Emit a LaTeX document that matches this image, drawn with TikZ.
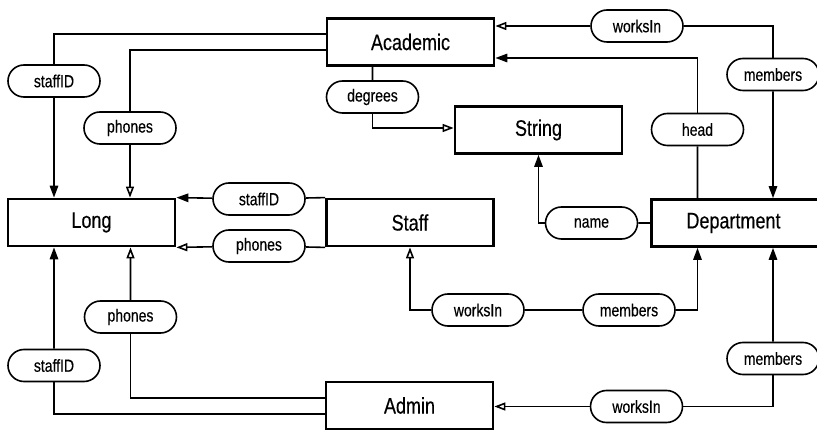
\documentclass[tikz,border=0pt]{standalone}
\usepackage{fontspec}
\setmainfont{Liberation Sans}[FakeStretch=0.8,FakeBold=0.3]
\usetikzlibrary{shapes.misc,arrows.meta}

\begin{document}
\begin{tikzpicture}[x=1pt,y=-1pt,
  entity/.style={draw,line width=2.8pt,minimum width=167pt,minimum height=47pt,
    inner sep=0pt,font=\fontsize{22.5}{24}\selectfont},
  role/.style={draw,rounded rectangle,line width=1.6pt,minimum width=92pt,
    minimum height=32pt,inner sep=0pt,font=\fontsize{17.5}{20}\selectfont,fill=white},
  conn/.style={line width=1.6pt},
  full/.style={conn,-{Triangle[length=12pt,width=8.5pt]}},
  hollow/.style={conn,-{Triangle[open,length=11pt,width=8pt]}},
]
\useasboundingbox (0,0) rectangle (817,430);

% entity types
\node[entity] (acad)  at (410.5,42)  {Academic};
\node[entity] (str)   at (538.5,130) {String};
\node[entity] (long)  at (91.5,222.5) {Long};
\node[entity] (staff) at (410,222.5) {Staff};
\node[entity,minimum width=172pt] (dept) at (737.5,223) {\hspace*{-8pt}Department};
\node[entity] (admin) at (409.5,405.5) {Admin};

% roles
\node[role] (sidA) at (54,81)      {staffID};
\node[role] (phA)  at (130,128)    {phones};
\node[role] (deg)  at (372.5,97)   {degrees};
\node[role] (sidS) at (259,199)    {staffID};
\node[role] (phS)  at (259,246)    {phones};
\node[role] (wiA)  at (637,26)     {worksIn};
\node[role] (memA) at (773,74.5)   {members};
\node[role] (head) at (697.5,129.5) {head};
\node[role] (name) at (591.5,223)  {name};
\node[role] (wiS)  at (478,310)    {worksIn};
\node[role] (memS) at (629,310)    {members};
\node[role] (memD) at (773,358.5)  {members};
\node[role] (wiD)  at (636.5,406.5) {worksIn};
\node[role] (phD)  at (130.5,317)  {phones};
\node[role] (sidD) at (54,365.5)   {staffID};

% Academic
\draw[conn] ([yshift=8pt]acad.west) -| (sidA);
\draw[full] (sidA) -- (sidA |- long.north);
\draw[conn] ([yshift=-8pt]acad.west) -| (phA);
\draw[hollow] (phA) -- (phA |- long.north);
\draw[conn] (acad.south -| deg) -- (deg);
\draw[hollow] (deg) |- ([yshift=2pt]str.west);

% Staff
\draw[conn] (staff.north west) -- (sidS);
\draw[full] (sidS) -- (long.north east);
\draw[conn] (staff.south west) -- (phS);
\draw[hollow] (phS) -- (long.south east);

% Department
\draw[conn] (dept.north -| head) -- (head);
\draw[full] (head) |- ([yshift=-16pt]acad.east);
\draw[full] (memA) -- (memA |- dept.north);
\draw[conn] (memA) |- (wiA);
\draw[hollow] (wiA) -- ([yshift=16pt]acad.east);
\draw[conn] (dept.west) -- (name);
\draw[full] (name) -| (str.south);
\draw[hollow] (wiS) -| (staff.south);
\draw[conn] (wiS) -- (memS);
\draw[full] (memS) -| (dept.south -| head);
\draw[full] (memD) -- (memD |- dept.south);
\draw[conn] (memD) |- (wiD);
\draw[hollow] (wiD) -- (wiD -| admin.east);

% Admin
\draw[conn] ([yshift=7.5pt]admin.west) -| (phD);
\draw[hollow] (phD) -- (phD |- long.south);
\draw[conn] ([yshift=-8.5pt]admin.west) -| (sidD);
\draw[full] (sidD) -- (sidD |- long.south);
\end{tikzpicture}
\end{document}
